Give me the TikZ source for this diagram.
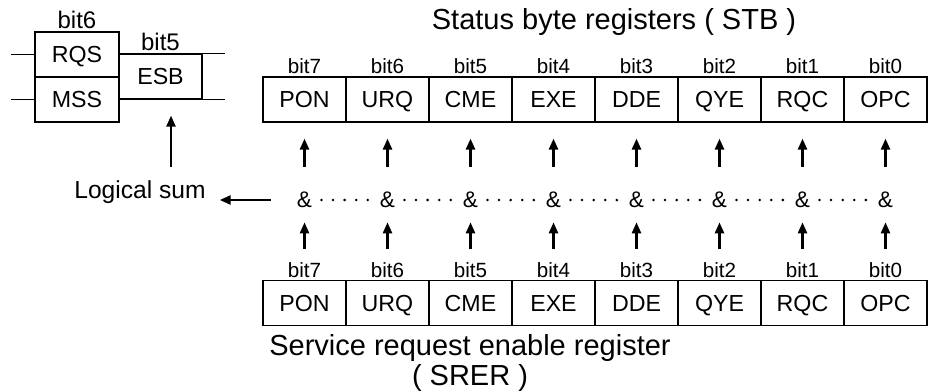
\documentclass[tikz,border=0pt]{standalone}
\usepackage{fontspec}
\setmainfont{Liberation Sans}
\usetikzlibrary{arrows.meta,positioning}
\begin{document}
\begin{tikzpicture}[
    x=0.5pt, y=-0.5pt,
    font=\fontsize{11.6}{13}\selectfont,
    cell/.style={draw, line width=0.6pt, minimum width=41.5pt, minimum height=22.5pt, inner sep=0pt,
      text height=8.3pt, text depth=0pt},
    bitlab/.style={font=\fontsize{10.3}{12}\selectfont, inner sep=1pt},
    andop/.style={font=\fontsize{11.3}{13}\selectfont, inner sep=1pt},
    sig/.style={-{Triangle[length=5.5pt,width=4.5pt]}, line width=1.2pt},
    dotrow/.style={line width=1.4pt, line cap=round, dash pattern=on 0pt off 5.8pt}
  ]
  \useasboundingbox (0,0) rectangle (929,390);
  % summary bits of the status byte
  \node[cell, minimum width=42pt] (rqs) at (77,54.5) {RQS};
  \node[cell, minimum width=42pt] (mss) at (77,99.5) {MSS};
  \node[cell] (esb) at (160.5,76.5) {ESB};
  \node[bitlab, font=\fontsize{12}{14}\selectfont, above=0pt of rqs] {bit6};
  \node[bitlab, font=\fontsize{12}{14}\selectfont, above=0pt of esb] {bit5};
  \draw[line width=0.6pt] (rqs.west) -- ++(-23,0);
  \draw[line width=0.6pt] (mss.west) -- ++(-23,0);
  \draw[line width=0.6pt] (esb.north east) -- ++(22,0);
  \draw[line width=0.6pt] (esb.south east) -- ++(22,0);
  \coordinate (esbin) at (171,167);
  \draw[sig, shorten >=8pt] (esbin) -- (esbin |- esb.south);
  % titles
  \node[font=\fontsize{14.5}{16}\selectfont] (stbtitle) at (614,22) {Status byte registers ( STB )};
  \node[font=\fontsize{14.5}{12.5}\selectfont, align=center] (srertitle) at (470,363) {Service request enable register\\( SRER )};
  \node[font=\fontsize{12.3}{14}\selectfont] (logic) at (140,192) {Logical sum};
  % registers and logical and
  \foreach \b/\name [count=\k from 0] in {7/PON,6/URQ,5/CME,4/EXE,3/DDE,2/QYE,1/RQC,0/OPC} {
    \node[cell] (stb\b) at (304.5+83*\k,99.5) {\name};
    \node[bitlab, above=0pt of stb\b] {bit\b};
    \node[cell] (srer\b) at (304.5+83*\k,303) {\name};
    \node[bitlab, above=0pt of srer\b] (srerbit\b) {bit\b};
    \node[andop] (and\b) at (304.5+83*\k,200) {\&};
    \draw[sig, shorten <=11.5pt, shorten >=8pt] (and\b) -- (stb\b);
    \draw[sig, shorten <=5.5pt, shorten >=6pt] (srerbit\b) -- (and\b);
  }
  \foreach \a/\c in {7/6,6/5,5/4,4/3,3/2,2/1,1/0}
    \draw[dotrow, shorten <=3.5pt, shorten >=3.5pt] (and\a.east) -- (and\c.west);
  \draw[sig, shorten <=12pt, shorten >=3.5pt] (and7.west) -- (logic.east |- and7.west);
\end{tikzpicture}
\end{document}
